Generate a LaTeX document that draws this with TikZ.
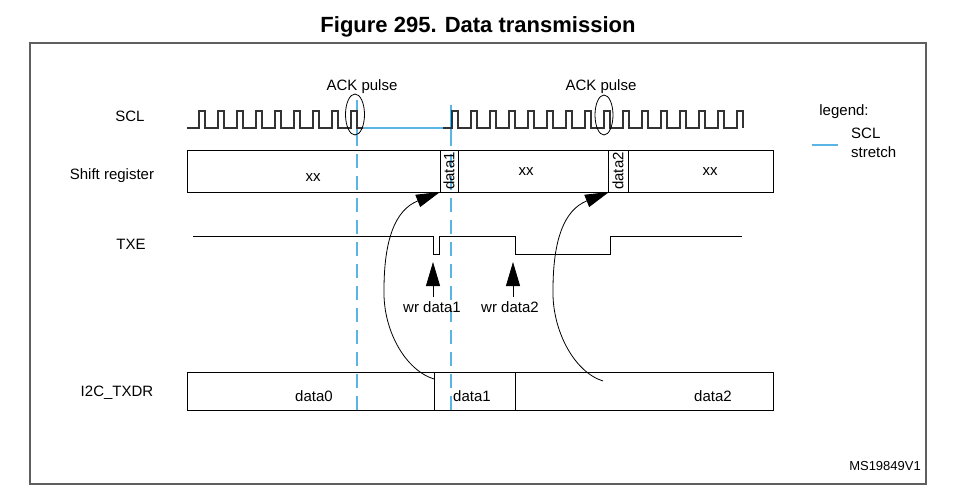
\documentclass[tikz,border=0pt]{standalone}
\usepackage{fontspec}
\setmainfont{Liberation Sans}
\usetikzlibrary{arrows.meta}
\definecolor{sclblue}{RGB}{90,180,228}
\definecolor{framegray}{RGB}{95,95,95}
\begin{document}
\begin{tikzpicture}[x=1pt,y=-1pt,
  lbl/.style={font=\fontsize{15}{18}\selectfont, inner sep=0pt, anchor=center},
  box/.style={draw=black, line width=1pt},
  wave/.style={draw=black!80, line width=1.2pt},
  stretch/.style={draw=sclblue, line width=1.1pt},
  vdash/.style={draw=sclblue, line width=1.1pt, dash pattern=on 14pt off 8pt},
  bigarrow/.style={-{Triangle[length=24pt,width=13pt]}, line width=0.8pt},
  uparrow/.style={-{Triangle[length=24pt,width=14pt]}, line width=0.8pt}]
\useasboundingbox (0,0) rectangle (953,501);
% title and frame
\node[font=\bfseries\fontsize{22}{26}\selectfont, inner sep=0pt] (title) at (478,27) {Figure 295. Data transmission};
\draw[draw=framegray, line width=1.5pt] (30,43) rectangle (926,484);
% row labels
\node[lbl] (sclL) at (130,116) {SCL};
\node[lbl] (shiftL) at (112,176) {Shift register};
\node[lbl] (txeL) at (131,244) {TXE};
\node[lbl] (txdrL) at (117,393) {I2C\_TXDR};
% blue SCL stretch markers
\draw[stretch] (357,100) -- (357,146);
\draw[vdash] (357,154) -- (357,410);
\draw[stretch] (451,105) -- (451,146);
\draw[vdash] (451,154) -- (451,410);
% SCL waveform
\draw[wave] (187,128) foreach \i in {0,...,8} { -- ({199+19*\i},128) -- ({199+19*\i},111) -- ({205+19*\i},111) -- ({205+19*\i},128) } -- (363,128);
\draw[stretch] (363,128) -- (443,128);
\draw[wave] (443,128) foreach \i in {0,...,15} { -- ({452+19*\i},128) -- ({452+19*\i},111) -- ({458+19*\i},111) -- ({458+19*\i},128) };
% ACK pulses
\draw[line width=0.8pt] (355,114.5) ellipse [x radius=9.5pt, y radius=20.5pt];
\draw[line width=0.8pt] (604,115) ellipse [x radius=9pt, y radius=20pt];
\node[lbl] (ack1) at (362,87) {ACK pulse};
\node[lbl] (ack2) at (601,87) {ACK pulse};
% shift register
\draw[box] (187,150) rectangle (773,192);
\draw[box] (440,150) -- (440,192);
\draw[box] (458,150) -- (458,192);
\draw[box] (608,150) -- (608,192);
\draw[box] (628,150) -- (628,192);
\node[lbl] (xx1) at (313,178) {xx};
\node[lbl] (xx2) at (526,172) {xx};
\node[lbl] (xx3) at (710,172) {xx};
\node[lbl, rotate=90] (sd1) at (449,171) {data1};
\node[lbl, rotate=90] (sd2) at (618,171) {data2};
% TXE
\draw[box] (193,236) -- (433,236) -- (433,254) -- (439,254) -- (439,236) -- (515,236) -- (515,254) -- (610,254) -- (610,236) -- (742,236);
\node[lbl] (wr1) at (432,307) {wr data1};
\node[lbl] (wr2) at (510,307) {wr data2};
\coordinate (wr1tail) at (433,297);
\coordinate (wr1tip) at (433,262);
\coordinate (wr2tail) at (513,297);
\coordinate (wr2tip) at (513,262);
\draw[uparrow] (wr1tail) -- (wr1tip);
\draw[uparrow] (wr2tail) -- (wr2tip);
% I2C_TXDR
\draw[box] (187,372) rectangle (773,410);
\draw[box] (434,372) -- (434,410);
\draw[box] (515,372) -- (515,410);
\node[lbl] (td0) at (314,396) {data0};
\node[lbl] (td1) at (472,396) {data1};
\node[lbl] (td2) at (713,396) {data2};
% transfer arrows
\coordinate (c1s) at (434,379);
\coordinate (c1e) at (440,192);
\coordinate (c2s) at (603,381);
\coordinate (c2e) at (609,192);
\draw[bigarrow] (c1s) .. controls (405,370) and (383,330) .. (384,290) .. controls (384,240) and (395,210) .. (c1e);
\draw[bigarrow] (c2s) .. controls (574,372) and (552,330) .. (553,290) .. controls (553,240) and (564,210) .. (c2e);
% legend
\node[lbl] (leg) at (844,112) {legend:};
\coordinate (legA) at (812,145);
\coordinate (legB) at (838,145);
\draw[stretch] (legA) -- (legB);
\node[lbl, anchor=west] (legscl) at (851,133) {SCL};
\node[lbl, anchor=west] (legstr) at (851,152) {stretch};
\node[font=\fontsize{13}{15}\selectfont, inner sep=0pt, anchor=east] (ms) at (921,466) {MS19849V1};
\end{tikzpicture}
\end{document}
